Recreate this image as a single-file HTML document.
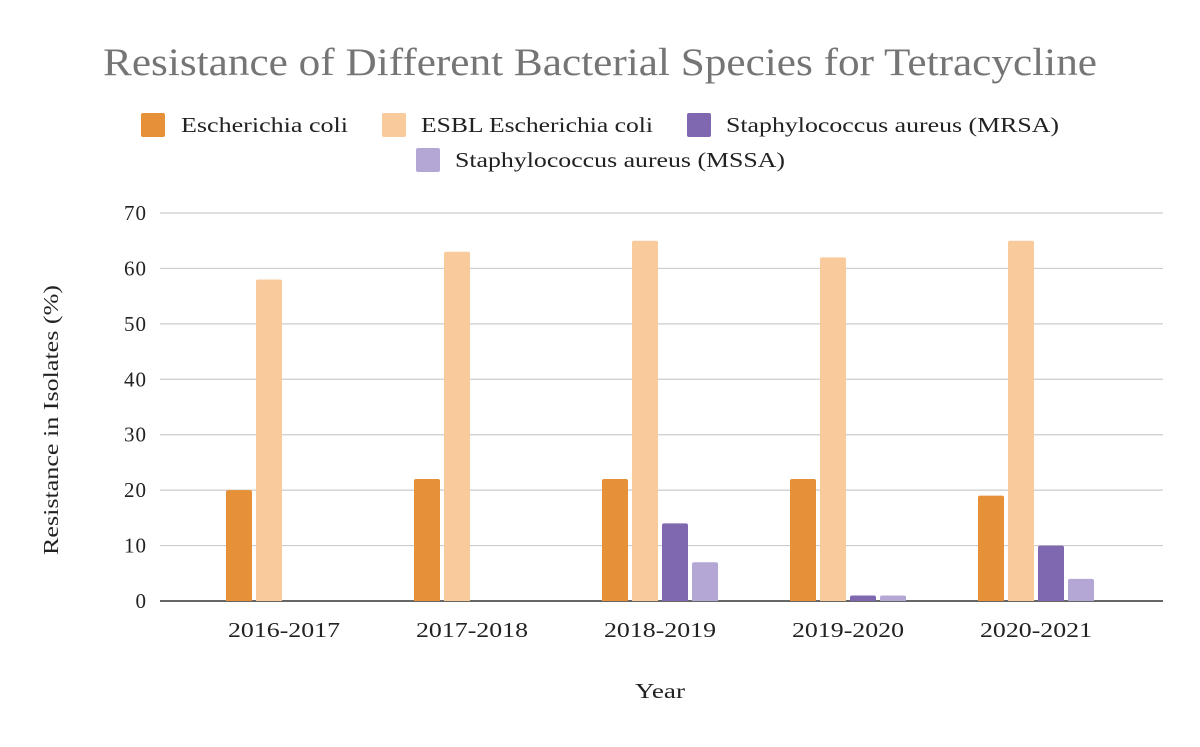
<!DOCTYPE html>
<html><head><meta charset="utf-8"><style>
body{margin:0;background:#fff;}
svg text{font-family:"Liberation Serif",serif;}
</style></head><body>
<svg id="chart" width="1200" height="742" xmlns="http://www.w3.org/2000/svg">
<rect width="1200" height="742" fill="#fff"/>
<text x="103" y="75" textLength="994" lengthAdjust="spacingAndGlyphs" font-size="39" fill="#757575">Resistance of Different Bacterial Species for Tetracycline</text>
<g font-size="21" fill="#222">
<g><rect x="141" y="113" width="24" height="24" rx="2" fill="#E69138"/><text x="181" y="132" textLength="167" lengthAdjust="spacingAndGlyphs">Escherichia coli</text></g>
<g><rect x="382" y="113" width="24" height="24" rx="2" fill="#F9CB9C"/><text x="421" y="132" textLength="232" lengthAdjust="spacingAndGlyphs">ESBL Escherichia coli</text></g>
<g><rect x="687" y="113" width="24" height="24" rx="2" fill="#8068B0"/><text x="726" y="132" textLength="333" lengthAdjust="spacingAndGlyphs">Staphylococcus aureus (MRSA)</text></g>
<g><rect x="416" y="148" width="24" height="24" rx="2" fill="#B4A7D6"/><text x="455" y="167" textLength="330" lengthAdjust="spacingAndGlyphs">Staphylococcus aureus (MSSA)</text></g>
</g>
<g id="grid"></g>
<g id="bars"></g>
<g id="xlabels"></g>
<text transform="translate(58,555) rotate(-90)" textLength="270" lengthAdjust="spacingAndGlyphs" font-size="21" fill="#222">Resistance in Isolates (%)</text>
<text x="635" y="698" textLength="50" lengthAdjust="spacingAndGlyphs" font-size="21" fill="#222">Year</text>
</svg>
<script>
const categories=["2016-2017","2017-2018","2018-2019","2019-2020","2020-2021"];
const ecoli=[20,22,22,22,19];
const esbl=[58,63,65,62,65];
const mrsa=[0,0,14,1,10];
const mssa=[0,0,7,1,4];
const yTicks=[0,10,20,30,40,50,60,70];
const NS="http://www.w3.org/2000/svg";
const y0=601,yTop=213,yMax=70;
const y=v=>y0-(v/yMax)*(y0-yTop);
const bandStart=190,band=188;
const xc=i=>bandStart+band*i+band/2;
const grid=document.getElementById('grid');
yTicks.forEach(t=>{
 const l=document.createElementNS(NS,'line');
 
 
 l.setAttribute('x1',160);l.setAttribute('x2',1163);
 l.setAttribute('y1',y(t));l.setAttribute('y2',y(t));
 l.setAttribute('stroke',t===0?'#333':'#ccc');l.setAttribute('stroke-width',t===0?1.5:1.2);
 grid.appendChild(l);
 const tx=document.createElementNS(NS,'text');
 
 
 tx.setAttribute('x',147);tx.setAttribute('y',y(t)+7);
 tx.setAttribute('text-anchor','end');tx.setAttribute('font-size','21');tx.setAttribute('fill','#222');
 tx.setAttribute('letter-spacing','1');
 tx.textContent=t;grid.appendChild(tx);
});
const series=[[ecoli,'#E69138','ecoli'],[esbl,'#F9CB9C','esbl'],[mrsa,'#8068B0','mrsa'],[mssa,'#B4A7D6','mssa']];
const bw=26,gap=4;
const bars=document.getElementById('bars');
categories.forEach((c,i)=>{
 const start=xc(i)-(4*bw+3*gap)/2;
 series.forEach((s,k)=>{
  const v=s[0][i]; if(v<=0) return;
  const r=document.createElementNS(NS,'path');
  
  
  const x=start+k*(bw+gap),top=y(v),rr=Math.min(2,(y0-top)/2);
  r.setAttribute('d',`M${x},${y0} L${x},${top+rr} Q${x},${top} ${x+rr},${top} L${x+bw-rr},${top} Q${x+bw},${top} ${x+bw},${top+rr} L${x+bw},${y0} Z`);
  r.setAttribute('fill',s[1]);
  bars.appendChild(r);
 });
 const t=document.createElementNS(NS,'text');
 
 
 t.setAttribute('x',xc(i)-56);t.setAttribute('y',637);
 t.setAttribute('textLength','112');t.setAttribute('lengthAdjust','spacingAndGlyphs');
 t.setAttribute('font-size','21');t.setAttribute('fill','#222');
 t.textContent=c;document.getElementById('xlabels').appendChild(t);
});
</script>
</body></html>
